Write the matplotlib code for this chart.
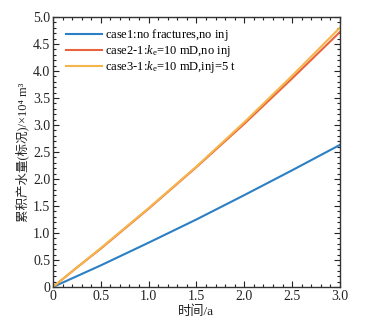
import numpy as np
import matplotlib
matplotlib.use("Agg")
import matplotlib.pyplot as plt
from matplotlib.ticker import MultipleLocator

plt.rcParams['font.family'] = ['Liberation Serif', 'Noto Sans CJK SC']
plt.rcParams['mathtext.fontset'] = 'custom'
plt.rcParams['mathtext.rm'] = 'Liberation Serif'
plt.rcParams['mathtext.it'] = 'Liberation Serif:italic'

# data
t = [0, 0.25, 0.5, 1.0, 1.5, 2.0, 2.5, 3.0]
case1 = [0, 0.20, 0.40, 0.82, 1.25, 1.70, 2.16, 2.63]
case2 = [0, 0.36, 0.71, 1.45, 2.22, 3.02, 3.86, 4.72]
case3 = [0, 0.36, 0.72, 1.46, 2.23, 3.05, 3.91, 4.80]
# trailing empty math keeps all three labels laid out the same way
labels = ["case1:no fractures,no inj$^{}$",
          "case2-1:$k_{\\rm e}$=10 mD,no inj",
          "case3-1:$k_{\\rm e}$=10 mD,inj=5 t"]
colors = ["#2b7fc4", "#e9643c", "#f5b54b"]
xticklabels = ["0", "0.5", "1.0", "1.5", "2.0", "2.5", "3.0"]
yticklabels = ["0", "0.5", "1.0", "1.5", "2.0", "2.5", "3.0", "3.5", "4.0", "4.5", "5.0"]

fig = plt.figure(figsize=(3.69, 3.25), dpi=100)
ax = fig.add_axes([0.1436, 0.117, 0.7775, 0.831])

for y, lab, c in zip([case1, case2, case3], labels, colors):
    ax.plot(t, y, color=c, lw=1.5, label=lab)

ax.set_xlim(0, 3.0)
ax.set_ylim(0, 5.0)
ax.xaxis.set_minor_locator(MultipleLocator(0.1))
ax.yaxis.set_minor_locator(MultipleLocator(0.1))
ax.set_xticks(np.arange(0, 3.01, 0.5))
ax.set_xticklabels(xticklabels)
ax.set_yticks(np.arange(0, 5.01, 0.5))
ax.set_yticklabels(yticklabels)
ax.tick_params(which='both', direction='in', top=True, right=True, labelsize=10,
               width=0.8, colors="#222222", pad=2)
ax.tick_params(which='major', length=4)
ax.tick_params(which='minor', length=2)
for s in ax.spines.values():
    s.set_linewidth(1.0)
    s.set_color("#333333")

ax.set_xlabel("时间/a", fontsize=9.5, labelpad=2, color="#222222")
ax.set_ylabel("累积产水量(标况)/×10⁴ m³", fontsize=9, labelpad=3, color="#222222")

ax.legend(loc='upper left', frameon=False, fontsize=9, handlelength=2.9,
          handletextpad=0.2, labelspacing=0.0, borderaxespad=0.4,
          bbox_to_anchor=(0.01, 1.0))

fig.savefig("out.png", dpi=100)
